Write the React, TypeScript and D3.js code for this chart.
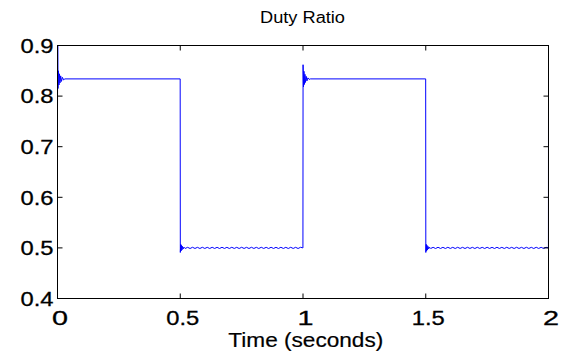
import React from "react";
import * as d3 from "d3";

const title = "Duty Ratio";
const xLabel = "Time (seconds)";
const xTicks = [0, 0.5, 1, 1.5, 2];
const xTickLabels = ["0", "0.5", "1", "1.5", "2"];
const yTicks = [0.4, 0.5, 0.6, 0.7, 0.8, 0.9];
const yTickLabels = ["0.4", "0.5", "0.6", "0.7", "0.8", "0.9"];

// [time, duty ratio]
const startup: [number, number][] = [
  [0, 0.77], [0.0008, 0.93], [0.002, 0.815], [0.004, 0.85], [0.006, 0.822], [0.008, 0.844],
  [0.01, 0.826], [0.013, 0.84], [0.016, 0.829], [0.02, 0.837], [0.025, 0.832], [0.03, 0.834],
  [0.4997, 0.834],
];
const lowPhase1: [number, number][] = [
  [0.5003, 0.491], [0.502, 0.507], [0.5035, 0.494], [0.505, 0.505], [0.507, 0.496], [0.509, 0.503],
  [0.512, 0.498], [0.515, 0.5015], [0.52, 0.4989], [0.53, 0.5011], [0.54, 0.4988], [0.55, 0.5012],
  [0.56, 0.4989], [0.57, 0.5011], [0.58, 0.4988], [0.59, 0.5012], [0.6, 0.4989], [0.61, 0.5011],
  [0.62, 0.4988], [0.63, 0.5012], [0.64, 0.4989], [0.65, 0.5011], [0.66, 0.4988], [0.67, 0.5012],
  [0.68, 0.4989], [0.69, 0.5011], [0.7, 0.4988], [0.71, 0.5012], [0.72, 0.4989], [0.73, 0.5011],
  [0.74, 0.4988], [0.75, 0.5012], [0.76, 0.4989], [0.77, 0.5011], [0.78, 0.4988], [0.79, 0.5012],
  [0.8, 0.4989], [0.81, 0.5011], [0.82, 0.4988], [0.83, 0.5012], [0.84, 0.4989], [0.85, 0.5011],
  [0.86, 0.4988], [0.87, 0.5012], [0.88, 0.4989], [0.89, 0.5011], [0.9, 0.4988], [0.91, 0.5012],
  [0.92, 0.4989], [0.93, 0.5011], [0.94, 0.4988], [0.95, 0.5012], [0.96, 0.4989], [0.97, 0.5011],
  [0.98, 0.4988], [0.99, 0.5012], [0.9997, 0.5],
];
const highPhase: [number, number][] = [
  [1.0003, 0.862], [1.002, 0.818], [1.004, 0.849], [1.006, 0.823], [1.008, 0.843], [1.01, 0.827],
  [1.013, 0.839], [1.016, 0.83], [1.02, 0.836], [1.025, 0.833], [1.03, 0.834], [1.4997, 0.834],
];
const lowPhase2: [number, number][] = [
  [1.5003, 0.491], [1.502, 0.507], [1.5035, 0.494], [1.505, 0.505], [1.507, 0.496], [1.509, 0.503],
  [1.512, 0.498], [1.515, 0.5015], [1.52, 0.4989], [1.53, 0.5011], [1.54, 0.4988], [1.55, 0.5012],
  [1.56, 0.4989], [1.57, 0.5011], [1.58, 0.4988], [1.59, 0.5012], [1.6, 0.4989], [1.61, 0.5011],
  [1.62, 0.4988], [1.63, 0.5012], [1.64, 0.4989], [1.65, 0.5011], [1.66, 0.4988], [1.67, 0.5012],
  [1.68, 0.4989], [1.69, 0.5011], [1.7, 0.4988], [1.71, 0.5012], [1.72, 0.4989], [1.73, 0.5011],
  [1.74, 0.4988], [1.75, 0.5012], [1.76, 0.4989], [1.77, 0.5011], [1.78, 0.4988], [1.79, 0.5012],
  [1.8, 0.4989], [1.81, 0.5011], [1.82, 0.4988], [1.83, 0.5012], [1.84, 0.4989], [1.85, 0.5011],
  [1.86, 0.4988], [1.87, 0.5012], [1.88, 0.4989], [1.89, 0.5011], [1.9, 0.4988], [1.91, 0.5012],
  [1.92, 0.4989], [1.93, 0.5011], [1.94, 0.4988], [1.95, 0.5012], [1.96, 0.4989], [1.97, 0.5011],
  [1.98, 0.4988], [1.99, 0.5012], [1.9997, 0.5], [2.0, 0.8],
];

const W = 564;
const H = 360;
const L = 57.5, R = 548.5, T = 45.5, B = 298.5;
const FONT = "'Liberation Sans', Arial, Helvetica, sans-serif";

export default function App() {
  const x = d3.scaleLinear().domain([0, 2]).range([L, R]);
  const y = d3.scaleLinear().domain([0.4, 0.9]).range([B, T]);
  const data = [...startup, ...lowPhase1, ...highPhase, ...lowPhase2];
  const line = d3
    .line<[number, number]>()
    .x((d) => x(d[0]))
    .y((d) => y(d[1]));
  const tl = 5;
  return (
    <svg
      width={W}
      height={H}
      style={{ position: "absolute", left: 0, top: 0, background: "#fff" }}
    >
      <defs>
        <clipPath id="plotclip">
          <rect x={L} y={T} width={R - L} height={B - T} />
        </clipPath>
      </defs>
      <rect x={0} y={0} width={W} height={H} fill="#fff" />
      <path
        d={line(data) || ""}
        fill="none"
        stroke="#0000ff"
        strokeWidth={1}
        clipPath="url(#plotclip)"
      />
      <rect x={L} y={T} width={R - L} height={B - T} fill="none" stroke="#000" strokeWidth={1} />
      {xTicks.map((t, i) => (
        <g key={"x" + i}>
          <line x1={x(t)} x2={x(t)} y1={B} y2={B - tl} stroke="#000" />
          <line x1={x(t)} x2={x(t)} y1={T} y2={T + tl} stroke="#000" />
          <text
            x={x(t) + 2.5}
            y={325}
            textAnchor="middle"
            fontFamily={FONT}
            fontSize={20.5}
            textLength={xTickLabels[i].length > 1 ? 33 : 16}
            lengthAdjust="spacingAndGlyphs"
            fill="#000"
            stroke="#000"
            strokeWidth={0.3}
          >
            {xTickLabels[i]}
          </text>
        </g>
      ))}
      {yTicks.map((t, i) => (
        <g key={"y" + i}>
          <line x1={L} x2={L + tl} y1={y(t)} y2={y(t)} stroke="#000" />
          <line x1={R} x2={R - tl} y1={y(t)} y2={y(t)} stroke="#000" />
          <text
            x={53.5}
            y={y(t) + 7.3}
            textAnchor="end"
            fontFamily={FONT}
            fontSize={20.5}
            textLength={33}
            lengthAdjust="spacingAndGlyphs"
            fill="#000"
            stroke="#000"
            strokeWidth={0.3}
          >
            {yTickLabels[i]}
          </text>
        </g>
      ))}
      <text
        x={302.5}
        y={23.3}
        textAnchor="middle"
        fontFamily={FONT}
        fontSize={16}
        textLength={85}
        lengthAdjust="spacingAndGlyphs"
        fill="#000"
      >
        {title}
      </text>
      <text
        x={305.8}
        y={346.7}
        textAnchor="middle"
        fontFamily={FONT}
        fontSize={21}
        textLength={155}
        lengthAdjust="spacingAndGlyphs"
        fill="#000"
        stroke="#000"
        strokeWidth={0.2}
      >
        {xLabel}
      </text>
    </svg>
  );
}
